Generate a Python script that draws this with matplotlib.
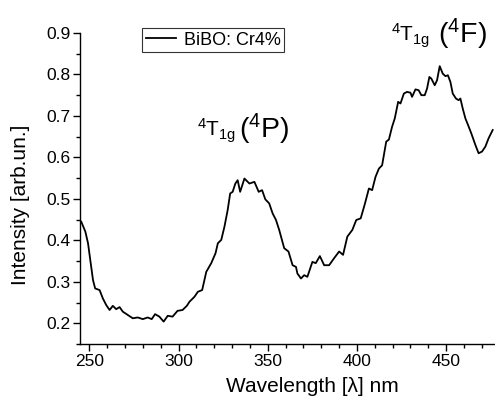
import matplotlib
matplotlib.use("Agg")
import matplotlib.pyplot as plt
from matplotlib.ticker import MultipleLocator

plt.rcParams['font.family'] = ['Liberation Sans', 'DejaVu Sans']
plt.rcParams['mathtext.fontset'] = 'custom'
plt.rcParams['mathtext.rm'] = 'Liberation Sans'
plt.rcParams['mathtext.it'] = 'Liberation Sans'
plt.rcParams['mathtext.bf'] = 'Liberation Sans'

wavelength = [245.4, 247.7, 249.2, 250.7, 252.0, 253.2, 255.7, 257.5, 259.4, 261.3,
              263.1, 265.0, 266.9, 268.7, 271.5, 274.3, 277.1, 279.9, 282.7, 284.9,
              286.8, 289.2, 291.6, 293.9, 296.6, 299.4, 302.2, 304.6, 306.1, 308.9,
              310.8, 313.2, 315.5, 318.3, 320.7, 322.0, 323.9, 325.7, 327.5, 328.9,
              330.3, 331.8, 333.1, 334.5, 336.9, 339.7, 342.5, 344.9, 346.8, 348.6,
              350.8, 352.7, 354.6, 356.4, 359.2, 361.6, 363.9, 365.8, 366.6, 368.6,
              370.4, 372.2, 375.0, 376.9, 379.2, 381.6, 384.4, 387.2, 390.0, 392.2,
              394.6, 397.4, 399.6, 402.1, 404.5, 406.7, 408.5, 410.4, 412.3, 414.1,
              416.4, 417.9, 419.7, 421.2, 423.1, 424.4, 426.3, 428.1, 430.0, 430.9,
              432.8, 434.6, 436.1, 438.0, 439.3, 440.6, 441.7, 443.6, 444.9, 446.4,
              448.1, 449.6, 451.0, 452.4, 453.7, 455.5, 457.0, 458.0, 459.3, 460.8,
              462.3, 464.1, 466.4, 468.2, 470.1, 472.0, 473.8, 476.1]
intensity = [0.445, 0.421, 0.393, 0.345, 0.304, 0.284, 0.280, 0.260, 0.244, 0.232,
             0.242, 0.234, 0.239, 0.228, 0.220, 0.212, 0.214, 0.210, 0.214, 0.210,
             0.222, 0.216, 0.204, 0.218, 0.216, 0.230, 0.232, 0.242, 0.252, 0.264,
             0.276, 0.280, 0.324, 0.345, 0.369, 0.393, 0.401, 0.433, 0.473, 0.513,
             0.517, 0.537, 0.545, 0.517, 0.549, 0.537, 0.541, 0.517, 0.521, 0.499,
             0.489, 0.465, 0.449, 0.425, 0.381, 0.373, 0.340, 0.336, 0.320, 0.308,
             0.316, 0.312, 0.348, 0.345, 0.362, 0.340, 0.340, 0.357, 0.373, 0.365,
             0.409, 0.425, 0.449, 0.453, 0.489, 0.525, 0.521, 0.553, 0.573, 0.581,
             0.638, 0.643, 0.674, 0.694, 0.734, 0.730, 0.754, 0.758, 0.756, 0.746,
             0.764, 0.762, 0.750, 0.750, 0.766, 0.794, 0.790, 0.774, 0.786, 0.820,
             0.802, 0.796, 0.798, 0.782, 0.754, 0.742, 0.738, 0.742, 0.718, 0.694,
             0.678, 0.658, 0.630, 0.610, 0.614, 0.626, 0.646, 0.666]

x_ticks = [250, 300, 350, 400, 450]
y_ticks = [0.2, 0.3, 0.4, 0.5, 0.6, 0.7, 0.8, 0.9]
series_label = "BiBO: Cr4%"

W, H = 495, 401
fig = plt.figure(figsize=(W / 100, H / 100), dpi=100)
L, R, T, B = 80, 495, 33, 344
ax = fig.add_axes([L / W, 1 - B / H, (R - L) / W, (B - T) / H])

ax.plot(wavelength, intensity, color='black', lw=1.3, label=series_label)
ax.set_xlim(244.7, 477.4)
ax.set_ylim(0.15, 0.9)
ax.set_xticks(x_ticks)
ax.set_yticks(y_ticks)
ax.set_yticklabels([f"{v:.1f}" for v in y_ticks])
ax.xaxis.set_minor_locator(MultipleLocator(10))
ax.yaxis.set_minor_locator(MultipleLocator(0.05))
for s in ['top', 'right']:
    ax.spines[s].set_visible(False)
for s in ['left', 'bottom']:
    ax.spines[s].set_linewidth(1.0)
ax.tick_params(which='major', direction='out', length=5, width=1.0, labelsize=12.5, pad=2)
ax.tick_params(which='minor', direction='out', length=3, width=1.0)
ax.patch.set_alpha(0)

fig.text(312 / W, 1 - 386 / H, "Wavelength [\u03bb] nm", fontsize=15, ha='center', va='center')
fig.text(21 / W, 1 - 205 / H, "Intensity [arb.un.]", fontsize=15, ha='center', va='center', rotation=90)

leg = ax.legend(loc='upper left', bbox_to_anchor=(142 / W, 1 - 28 / H), bbox_transform=fig.transFigure,
                borderaxespad=0, frameon=True, fancybox=False, edgecolor='black', fontsize=13,
                handlelength=1.7, handletextpad=0.4, borderpad=0.2)
leg.get_frame().set_linewidth(0.8)

# annotations
fig.text(197 / W, 1 - 137 / H, r"$\mathregular{^4T_{1g}}$", fontsize=15, ha='left', va='baseline')
fig.text(239 / W, 1 - 138 / H, r"$\mathregular{(^4P)}$", fontsize=20.5, ha='left', va='baseline')
fig.text(391 / W, 1 - 42 / H, r"$\mathregular{^4T_{1g}}$", fontsize=15, ha='left', va='baseline')
fig.text(438 / W, 1 - 43 / H, r"$\mathregular{(^4F)}$", fontsize=20.5, ha='left', va='baseline')

fig.savefig("out.png", dpi=100)
